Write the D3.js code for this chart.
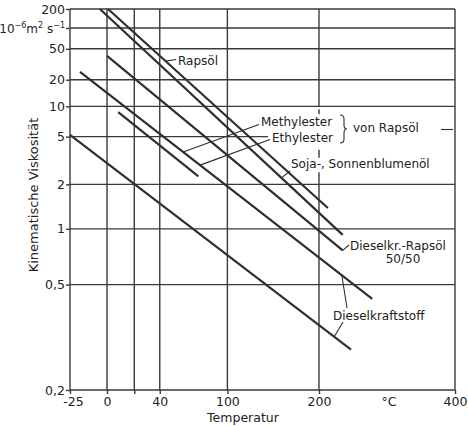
<!DOCTYPE html>
<html>
<head>
<meta charset="utf-8">
<script src="https://cdn.jsdelivr.net/npm/d3@7"></script>
<style>
  html, body { margin: 0; padding: 0; background: #fff; }
  svg { display: block; font-family: "DejaVu Sans", "Liberation Sans", sans-serif; }
</style>
</head>
<body>
<svg id="chart" width="468" height="426"></svg>
<script>
// Temperature grid (°C) and the labelled subset
const tempGrid = [-25, 0, 20, 40, 100, 200, 400];
const tempLabels = ["-25", "0", "", "40", "100", "200", "400"];

// Viscosity grid (10^-6 m²/s) with its labels; 100 carries the unit instead
const viscGrid = [200, 100, 50, 20, 10, 5, 2, 1, 0.5, 0.2];
const viscLabels = ["200", "", "50", "20", "10", "5", "2", "1", "0,5", "0,2"];

// Viscosity-temperature lines: [temperature °C, kinematic viscosity 10^-6 m²/s]
const rapsoel          = [[0.7, 200], [211, 1.36]];
const sojaSonnenblume  = [[-5, 200], [230, 0.92]];
const mischung5050     = [[0, 40], [230, 0.75]];
const dieselOben       = [[-18.5, 25], [270, 0.43]];
const rapsoelEster     = [[8, 8.7], [73, 2.3]];
const dieselUnten      = [[-25, 5.2], [241, 0.27]];

const allLines = [rapsoel, sojaSonnenblume, mischung5050, dieselOben, rapsoelEster, dieselUnten];

const svg = d3.select("#chart");
const plotLeft = 70, plotRight = 455, plotTop = 9, plotBottom = 390;
const ink = "#2f2f2f";

// x: logarithm of absolute temperature
const K = 273.15;
const x = d3.scaleLog().domain([-25 + K, 400 + K]).range([plotLeft, plotRight]);
const xt = t => x(t + K);

// y: double-logarithmic viscosity axis
const w = v => Math.log10(Math.log10(v) + 1.35);
const yLin = d3.scaleLinear().domain([w(0.2), w(200)]).range([plotBottom, plotTop]);
const y = v => yLin(w(v));

// Gap in the grid where the ester / oil labels sit
const labelBlockLeft = 268;

const grid = svg.append("g").attr("stroke", "#3a3a3a").attr("stroke-width", 1.4).attr("fill", "none");

// Horizontal grid lines
viscGrid.forEach(v => {
  const xEnd = v === 5 ? labelBlockLeft : plotRight;
  grid.append("line").attr("x1", plotLeft).attr("x2", xEnd).attr("y1", y(v)).attr("y2", y(v));
});

// Vertical grid lines (200 °C is interrupted by the label block)
tempGrid.forEach(t => {
  const segs = t === 200
    ? [[plotTop, y(10)], [y(10) + 3, y(10) + 8], [y(5) + 13, y(5) + 21], [y(2) - 12, plotBottom]]
    : [[plotTop, plotBottom]];
  segs.forEach(s => {
    grid.append("line").attr("x1", xt(t)).attr("x2", xt(t)).attr("y1", s[0]).attr("y2", s[1]);
  });
});

// Axes with short outer ticks
const yAxis = d3.axisLeft(yLin)
  .tickValues(viscGrid.map(w))
  .tickSize(4)
  .tickPadding(1)
  .tickFormat((d, i) => viscLabels[i]);
const gy = svg.append("g").attr("transform", `translate(${plotLeft},0)`).call(yAxis);
gy.select(".domain").remove();
gy.selectAll("line").attr("stroke", "#3a3a3a").attr("stroke-width", 1.4);
gy.selectAll("text").attr("font-size", 12.5).attr("fill", "#222")
  .attr("font-family", "DejaVu Sans, sans-serif");

const xAxis = d3.axisBottom(x)
  .tickValues(tempGrid.map(t => t + K))
  .tickSize(4)
  .tickPadding(3)
  .tickFormat((d, i) => tempLabels[i]);
const gx = svg.append("g").attr("transform", `translate(0,${plotBottom})`).call(xAxis);
gx.select(".domain").remove();
gx.selectAll("line").attr("stroke", "#3a3a3a").attr("stroke-width", 1.4);
gx.selectAll("text").attr("font-size", 12.5).attr("fill", "#222")
  .attr("font-family", "DejaVu Sans, sans-serif")
  .attr("dx", (d, i) => i === 0 ? 3 : 0);

// Unit on the 100 grid line: 10^-6 m² s^-1
const unit = svg.append("text")
  .attr("x", plotLeft - 5).attr("y", y(100) + 4.5)
  .attr("text-anchor", "end").attr("font-size", 12).attr("fill", "#222");
unit.append("tspan").text("10");
unit.append("tspan").attr("dy", -4.5).attr("font-size", 8).text("−6");
unit.append("tspan").attr("dy", 4.5).text("m");
unit.append("tspan").attr("dy", -4.5).attr("font-size", 8).text("2");
unit.append("tspan").attr("dy", 4.5).text(" s");
unit.append("tspan").attr("dy", -4.5).attr("font-size", 8).text("−1");

// Axis titles
svg.append("text")
  .attr("transform", "translate(38,195) rotate(-90)")
  .attr("text-anchor", "middle").attr("font-size", 13).attr("fill", "#222")
  .text("Kinematische Viskosität");
svg.append("text")
  .attr("x", 243).attr("y", 422).attr("text-anchor", "middle")
  .attr("font-size", 12.5).attr("fill", "#222").text("Temperatur");
svg.append("text")
  .attr("x", (xt(200) + xt(400)) / 2 + 2).attr("y", plotBottom + 16).attr("text-anchor", "middle")
  .attr("font-size", 12.5).attr("fill", "#222").text("°C");

// Viscosity lines
const line = d3.line().x(d => xt(d[0])).y(d => y(d[1]));
svg.append("g").selectAll("path").data(allLines).join("path")
  .attr("d", line)
  .attr("fill", "none").attr("stroke", ink).attr("stroke-width", 2.2);

// Point at fraction f along a straight series in screen space
function along(series, f) {
  const a = [xt(series[0][0]), y(series[0][1])];
  const b = [xt(series[1][0]), y(series[1][1])];
  return [a[0] + (b[0] - a[0]) * f, a[1] + (b[1] - a[1]) * f];
}

// Leader lines from labels to their curves
const leaders = [
  [along(rapsoel, 0.262), [176, 59.5]],
  [along(dieselOben, 0.353), [259, 124.5]],
  [along(dieselOben, 0.411), [270, 139.5]],
  [along(sojaSonnenblume, 0.748), [290, 171]],
  [along(mischung5050, 1.0), [349, 245]],
  [along(dieselOben, 0.896), [347, 308]],
  [along(dieselUnten, 0.94), [343, 322]],
  [[441, 129.5], [453, 129.5]]
];
svg.append("g").selectAll("line").data(leaders).join("line")
  .attr("x1", d => d[0][0]).attr("y1", d => d[0][1])
  .attr("x2", d => d[1][0]).attr("y2", d => d[1][1])
  .attr("stroke", ink).attr("stroke-width", 1.1);

// Brace grouping the two ester labels
svg.append("path")
  .attr("d", "M340,115 Q344,115 344,119 L344,125 Q344,129 347,129 Q344,129 344,133 L344,139 Q344,143 340,143")
  .attr("fill", "none").attr("stroke", ink).attr("stroke-width", 1.1);

// Series labels
const labels = [
  ["Rapsöl", 178, 65, "start"],
  ["Methylester", 261, 126, "start"],
  ["Ethylester", 272, 142, "start"],
  ["von Rapsöl", 353, 132, "start"],
  ["Soja-, Sonnenblumenöl", 291, 168, "start"],
  ["Dieselkr.-Rapsöl", 350, 250, "start"],
  ["50/50", 403, 263, "middle"],
  ["Dieselkraftstoff", 333, 320, "start"]
];
svg.append("g").selectAll("text").data(labels).join("text")
  .attr("x", d => d[1]).attr("y", d => d[2]).attr("text-anchor", d => d[3])
  .attr("font-size", 12).attr("fill", "#222")
  .text(d => d[0]);
</script>
</body>
</html>
